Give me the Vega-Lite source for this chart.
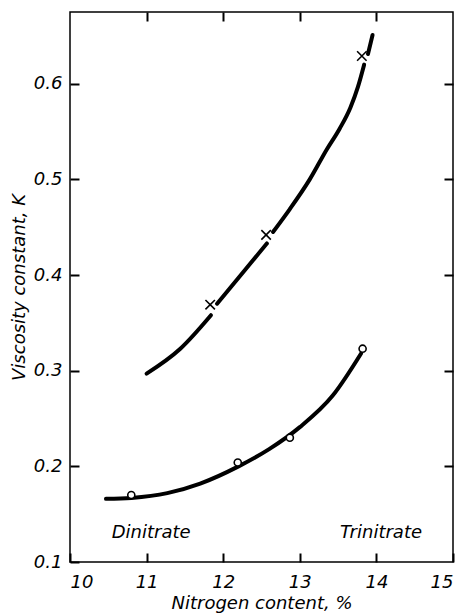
{
  "$schema": "https://vega.github.io/schema/vega-lite/v6.json",
  "width": 383,
  "height": 550,
  "autosize": {"type": "none"},
  "padding": {"left": 70, "top": 12, "right": 8, "bottom": 51},
  "background": "white",
  "config": {
    "view": {"stroke": "black", "strokeWidth": 1.5},
    "axis": {"grid": false, "domain": false, "ticks": true, "tickColor": "black", "tickWidth": 2, "tickSize": 9, "offset": -9}
  },
  "datasets": {
    "curves": [
      {"n": 11.0, "k": 0.297, "seg": "u1"},
      {"n": 11.44, "k": 0.323, "seg": "u1"},
      {"n": 11.84, "k": 0.358, "seg": "u1"},
      {"n": 11.92, "k": 0.37, "seg": "u2"},
      {"n": 12.26, "k": 0.403, "seg": "u2"},
      {"n": 12.57, "k": 0.433, "seg": "u2"},
      {"n": 12.65, "k": 0.445, "seg": "u3"},
      {"n": 12.87, "k": 0.469, "seg": "u3"},
      {"n": 13.13, "k": 0.5, "seg": "u3"},
      {"n": 13.35, "k": 0.531, "seg": "u3"},
      {"n": 13.52, "k": 0.553, "seg": "u3"},
      {"n": 13.66, "k": 0.575, "seg": "u3"},
      {"n": 13.76, "k": 0.597, "seg": "u3"},
      {"n": 13.84, "k": 0.62, "seg": "u3"},
      {"n": 13.89, "k": 0.631, "seg": "u4"},
      {"n": 13.92, "k": 0.641, "seg": "u4"},
      {"n": 13.95, "k": 0.651, "seg": "u4"},
      {"n": 10.47, "k": 0.166, "seg": "l"},
      {"n": 10.8, "k": 0.167, "seg": "l"},
      {"n": 11.27, "k": 0.172, "seg": "l"},
      {"n": 11.7, "k": 0.182, "seg": "l"},
      {"n": 12.2, "k": 0.2, "seg": "l"},
      {"n": 12.6, "k": 0.218, "seg": "l"},
      {"n": 13.0, "k": 0.241, "seg": "l"},
      {"n": 13.43, "k": 0.274, "seg": "l"},
      {"n": 13.8, "k": 0.318, "seg": "l"}
    ],
    "crosses": [
      {"n": 11.83, "k": 0.369},
      {"n": 12.56, "k": 0.442},
      {"n": 13.81, "k": 0.629}
    ],
    "circles": [
      {"n": 10.8, "k": 0.17},
      {"n": 12.19, "k": 0.204},
      {"n": 12.87, "k": 0.23},
      {"n": 13.82, "k": 0.323}
    ],
    "labels": [
      {"n": 11.06, "k": 0.13, "text": "Dinitrate"},
      {"n": 14.06, "k": 0.13, "text": "Trinitrate"}
    ]
  },
  "layer": [
    {
      "data": {"name": "curves"},
      "mark": {"type": "line", "color": "black", "strokeWidth": 4, "strokeCap": "round", "interpolate": "monotone"},
      "encoding": {
        "x": {"field": "n", "type": "quantitative", "scale": {"domain": [10, 15], "nice": false, "zero": false},
              "axis": {"orient": "bottom", "title": "Nitrogen content, %", "values": [10, 11, 12, 13, 14, 15], "format": "d",
                       "ticks": true, "tickColor": "black", "tickWidth": 2, "tickSize": 9, "offset": -9,
                       "labelPadding": 11, "titlePadding": 3,
                       "labelFont": "DejaVu Sans", "labelFontStyle": "italic", "labelFontSize": 18, "labelColor": "black",
                       "titleFont": "DejaVu Sans", "titleFontStyle": "italic", "titleFontWeight": "normal", "titleFontSize": 18, "titleColor": "black"}},
        "y": {"field": "k", "type": "quantitative", "scale": {"domain": [0.1, 0.675], "nice": false, "zero": false},
              "axis": {"orient": "left", "title": "Viscosity constant, K", "values": [0.1, 0.2, 0.3, 0.4, 0.5, 0.6], "format": ".1f",
                       "ticks": true, "tickColor": "black", "tickWidth": 2, "tickSize": 9, "offset": -9,
                       "labelPadding": 8, "titlePadding": 5,
                       "labelFont": "DejaVu Sans", "labelFontStyle": "italic", "labelFontSize": 18, "labelColor": "black",
                       "titleFont": "DejaVu Sans", "titleFontStyle": "italic", "titleFontWeight": "normal", "titleFontSize": 18, "titleColor": "black"}},
        "detail": {"field": "seg"}
      }
    },
    {
      "data": {"name": "crosses"},
      "mark": {"type": "point", "shape": "M-1,-1L1,1M-1,1L1,-1", "filled": false, "stroke": "black", "strokeWidth": 1.6, "size": 90, "opacity": 1},
      "encoding": {
        "x": {"field": "n", "type": "quantitative", "axis": {"orient": "top", "labels": false, "title": null, "values": [11, 12, 13, 14],
                                                           "ticks": true, "tickColor": "black", "tickWidth": 2, "tickSize": 9, "offset": -9}},
        "y": {"field": "k", "type": "quantitative", "axis": {"orient": "right", "labels": false, "title": null, "values": [0.2, 0.3, 0.4, 0.5, 0.6],
                                                           "ticks": true, "tickColor": "black", "tickWidth": 2, "tickSize": 9, "offset": -9}}
      }
    },
    {
      "data": {"name": "circles"},
      "mark": {"type": "point", "shape": "circle", "filled": true, "fill": "white", "stroke": "black", "strokeWidth": 1.6, "size": 50, "opacity": 1},
      "encoding": {
        "x": {"field": "n", "type": "quantitative", "axis": null},
        "y": {"field": "k", "type": "quantitative", "axis": null}
      }
    },
    {
      "data": {"name": "labels"},
      "mark": {"type": "text", "font": "DejaVu Sans", "fontStyle": "italic", "fontSize": 18, "color": "black", "align": "center", "baseline": "middle"},
      "encoding": {
        "x": {"field": "n", "type": "quantitative", "axis": null},
        "y": {"field": "k", "type": "quantitative", "axis": null},
        "text": {"field": "text"}
      }
    }
  ]
}
